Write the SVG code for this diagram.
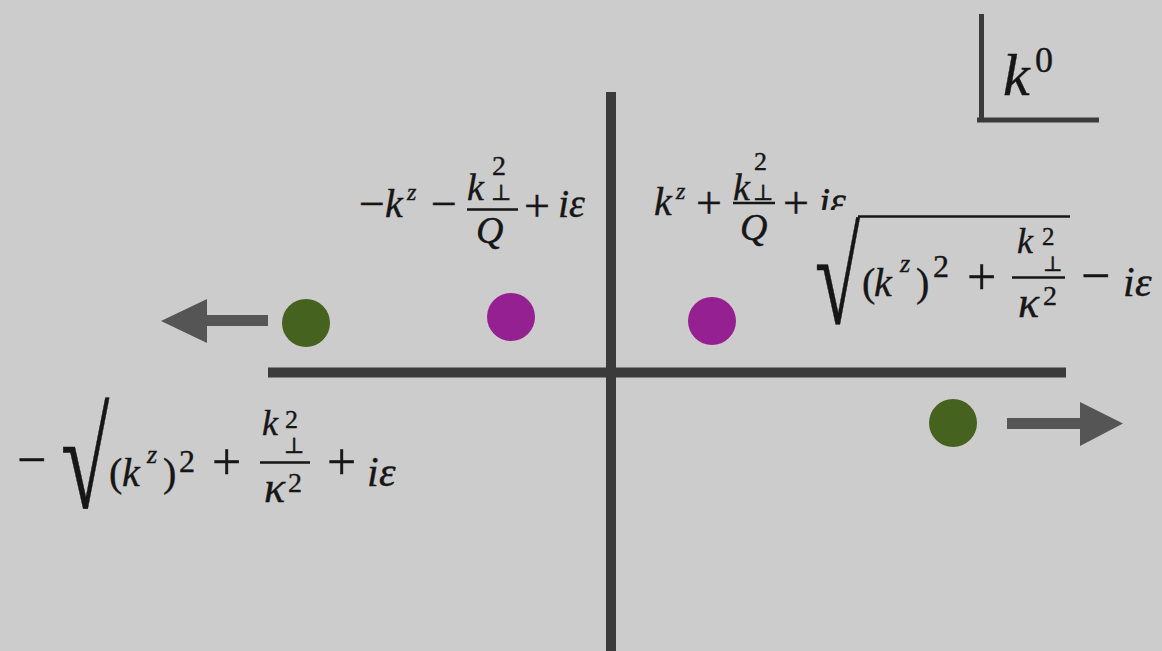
<svg xmlns="http://www.w3.org/2000/svg" width="1162" height="651" viewBox="0 0 1162 651">
<style>
.t{font-family:"Liberation Serif","DejaVu Serif",serif;fill:#161616;stroke:#161616;stroke-width:0.4}
.i{font-style:italic}
.ax{stroke:#3b3b3b;stroke-width:10;fill:none}
.br{stroke:#3a3a3a;stroke-width:5;fill:none}
.fb{stroke:#161616;stroke-width:2.5}
.arr{fill:#555555}
.g{fill:#46621f}
.p{fill:#952092}
</style>
<rect width="1162" height="651" fill="#cccccc"/>
<g id="axes">
<line class="ax" x1="611" y1="92" x2="611" y2="651"/>
<line class="ax" x1="268" y1="372.5" x2="1066" y2="372.5"/>
</g>
<g id="k0-label">
<line class="br" x1="981.5" y1="14" x2="981.5" y2="120"/>
<line class="br" x1="977" y1="120" x2="1099" y2="120"/>
<text class="t i" x="1003" y="95" font-size="60">k</text>
<text class="t" x="1035" y="72" font-size="36">0</text>
</g>
<g id="connectors">
<polygon class="arr" points="268,315 207,315 207,299 161,321 207,343 207,326 268,326"/>
<polygon class="arr" points="1007,418 1080,418 1080,402 1123,423.5 1080,446 1080,429 1007,429"/>
</g>
<g id="pole-left-green"><circle class="g" cx="306" cy="323" r="24"/></g>
<g id="pole-left-purple"><circle class="p" cx="511" cy="317" r="24"/></g>
<g id="pole-right-purple"><circle class="p" cx="712" cy="321" r="24"/></g>
<g id="pole-right-green"><circle class="g" cx="953" cy="423" r="24"/></g>
<g id="label-1">
<text class="t" x="359" y="219" font-size="46">−</text>
<text class="t i" x="385" y="217" font-size="40">k</text>
<text class="t i" x="407" y="200" font-size="24">z</text>
<text class="t" x="431" y="219" font-size="46">−</text>
<text class="t i" x="467" y="200" font-size="38">k</text>
<text class="t" x="492" y="175" font-size="28">2</text>
<text class="t" x="491" y="200" font-size="22">⊥</text>
<line class="fb" x1="467" y1="209.5" x2="518" y2="209.5"/>
<text class="t i" x="476" y="243" font-size="38">Q</text>
<text class="t" x="524" y="221" font-size="46">+</text>
<text class="t i" x="558" y="217" font-size="40">i</text>
<text class="t i" x="569" y="217" font-size="40">ε</text>
</g>
<g id="label-2">
<text class="t i" x="654" y="215" font-size="40">k</text>
<text class="t i" x="676" y="199" font-size="24">z</text>
<text class="t" x="696" y="218" font-size="46">+</text>
<text class="t i" x="733" y="200" font-size="38">k</text>
<text class="t" x="754" y="170" font-size="26">2</text>
<text class="t" x="753" y="200" font-size="22">⊥</text>
<line class="fb" x1="733" y1="203" x2="775" y2="203"/>
<text class="t i" x="740" y="240" font-size="38">Q</text>
<text class="t" x="783" y="218" font-size="46">+</text>
<text class="t i" x="819" y="215" font-size="40">i</text>
<text class="t i" x="830" y="215" font-size="40">ε</text>
</g>
<g id="label-3">
<rect x="812" y="210" width="350" height="125" fill="#cccccc"/>
<text class="t" font-size="100" transform="translate(815,323) scale(0.82,1.34)">√</text>
<line class="fb" x1="858" y1="216.5" x2="1070" y2="216.5"/>
<text class="t" x="862" y="296" font-size="40">(</text>
<text class="t i" x="874" y="296" font-size="40">k</text>
<text class="t i" x="900" y="272" font-size="26">z</text>
<text class="t" x="916" y="296" font-size="40">)</text>
<text class="t" x="933" y="277" font-size="32">2</text>
<text class="t" x="967" y="294" font-size="52">+</text>
<text class="t i" x="1017" y="253" font-size="36">k</text>
<text class="t" x="1042" y="245" font-size="25">2</text>
<text class="t" x="1043" y="271" font-size="21">⊥</text>
<line class="fb" x1="1012" y1="277.5" x2="1065" y2="277.5"/>
<text class="t i" x="1018" y="317" font-size="44">κ</text>
<text class="t" x="1043" y="305" font-size="28">2</text>
<text class="t" x="1081" y="293" font-size="52">−</text>
<text class="t i" x="1123" y="296" font-size="42">i</text>
<text class="t i" x="1135" y="296" font-size="42">ε</text>
</g>
<g id="label-4">
<text class="t" x="17" y="477" font-size="52">−</text>
<text class="t" font-size="100" transform="translate(61,508) scale(0.88,1.39)">√</text>
<text class="t" x="109" y="486" font-size="40">(</text>
<text class="t i" x="122" y="486" font-size="40">k</text>
<text class="t i" x="147" y="463" font-size="26">z</text>
<text class="t" x="163" y="486" font-size="40">)</text>
<text class="t" x="179" y="472" font-size="32">2</text>
<text class="t" x="212" y="479" font-size="52">+</text>
<text class="t i" x="262" y="435" font-size="36">k</text>
<text class="t" x="285" y="428" font-size="26">2</text>
<text class="t" x="284" y="453" font-size="22">⊥</text>
<line class="fb" x1="260" y1="462.5" x2="310" y2="462.5"/>
<text class="t i" x="264" y="502" font-size="44">κ</text>
<text class="t" x="288" y="492" font-size="28">2</text>
<text class="t" x="327" y="479" font-size="52">+</text>
<text class="t i" x="367" y="486" font-size="42">i</text>
<text class="t i" x="379" y="486" font-size="42">ε</text>
</g>
</svg>
